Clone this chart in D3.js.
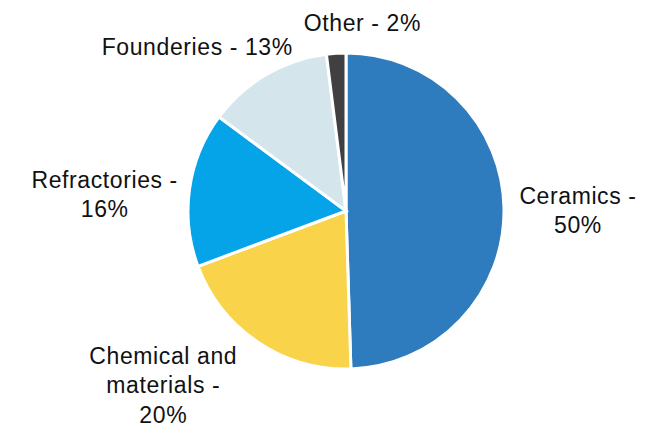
<!DOCTYPE html>
<html>
<head>
<meta charset="utf-8">
<script src="https://cdn.jsdelivr.net/npm/d3@7/dist/d3.min.js"></script>
<style>
  html, body { margin: 0; padding: 0; background: #fff; }
  svg { display: block; }
  text { font-family: "Liberation Sans", Arial, sans-serif; font-size: 23px; fill: #111; letter-spacing: 0.6px; }
</style>
</head>
<body>
<svg id="chart" width="659" height="427"></svg>
<script>
// Market share by end use (%)
const categories = ["Ceramics", "Chemical and materials", "Refractories", "Founderies", "Other"];
const shares = [50, 20, 16, 13, 2];
// Label lines as printed beside each slice
const labelLines = [
  ["Ceramics -", "50%"],
  ["Chemical and", "materials -", "20%"],
  ["Refractories -", "16%"],
  ["Founderies - 13%"],
  ["Other - 2%"]
];

const palette = ["#2E7BBD", "#F9D44B", "#05A3E8", "#D5E5EC", "#404040"];

const W = 659, H = 427;
const cx = 346, cy = 211, radius = 158;
const lineH = 29.5;
// label nudges (px) from the point just outside each slice's middle
const labelNudge = [[62, 2], [-88, 33], [-73, 7], [-63, -17], [27, -18]];

const svg = d3.select("#chart");
const g = svg.append("g").attr("transform", `translate(${cx},${cy})`);

const color = d3.scaleOrdinal().domain(categories).range(palette);

const pie = d3.pie().sort(null).value(d => d.value);
const data = categories.map((c, i) => ({ name: c, value: shares[i], lines: labelLines[i] }));
const arcs = pie(data);

const arc = d3.arc().innerRadius(0).outerRadius(radius);
const outer = d3.arc().innerRadius(radius + 12).outerRadius(radius + 12);

g.selectAll("path.slice")
  .data(arcs)
  .join("path")
  .attr("class", "slice")
  .attr("d", arc)
  .attr("fill", d => color(d.data.name))
  .attr("stroke", "#fff")
  .attr("stroke-width", 3)
  .attr("stroke-linejoin", "miter");

const labels = g.selectAll("text.lbl")
  .data(arcs)
  .join("text")
  .attr("class", "lbl")
  .attr("text-anchor", "middle")
  .attr("transform", (d, i) => {
    const [x, y] = outer.centroid(d);
    return `translate(${x + labelNudge[i][0]},${y + labelNudge[i][1]})`;
  });

labels.each(function(d) {
  const n = d.data.lines.length;
  const t = d3.select(this);
  d.data.lines.forEach((line, k) => {
    t.append("tspan")
      .attr("x", 0)
      .attr("y", (k - (n - 1) / 2) * lineH + 8)
      .text(line);
  });
});
</script>
</body>
</html>
